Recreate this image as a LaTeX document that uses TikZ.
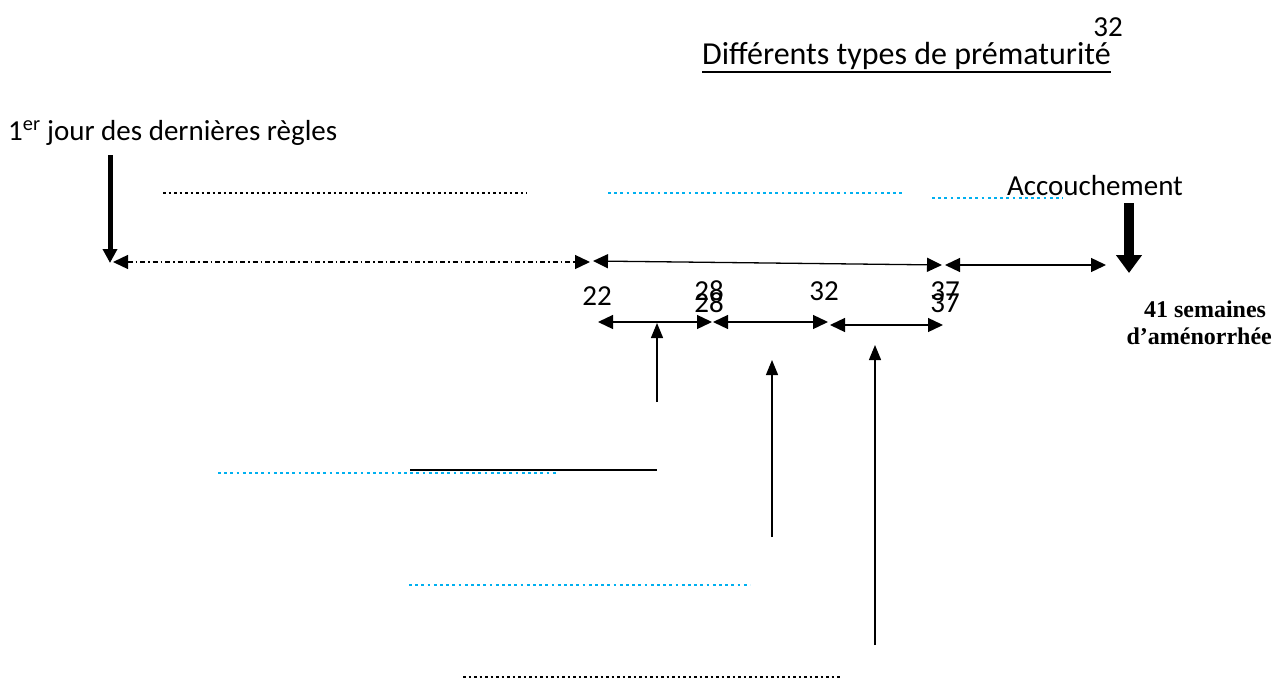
\documentclass[tikz,border=0pt]{standalone}
\usepackage{fontspec}
\setmainfont{Carlito}
\newfontfamily\bserif{Liberation Serif}
\usetikzlibrary{arrows.meta}
\definecolor{dotblue}{HTML}{00B0F0}
\tikzset{
  txt/.style={inner sep=0pt, anchor=base, font=\fontsize{29}{34}\selectfont},
  bold/.style={inner sep=0pt, anchor=base, font=\bserif\bfseries\fontsize{24}{28}\selectfont},
  thin/.style={line width=1.3pt, {Triangle[length=15pt,width=14pt]}-{Triangle[length=15pt,width=14pt]}},
  up/.style={line width=1.3pt, -{Triangle[length=15pt,width=12pt]}},
  dotsblack/.style={line width=2.6pt, dash pattern=on 2.6pt off 2.9pt, black},
  dotsblue/.style={line width=2.8pt, dash pattern=on 2.8pt off 3.4pt, dotblue},
  dashdot/.style={line width=1.3pt, dash pattern=on 5pt off 3pt on 1.5pt off 3pt}
}
\begin{document}
\begin{tikzpicture}[x=1pt,y=-1pt]
\useasboundingbox (0,0) rectangle (1273,682);
% texts
\node[txt] (pg) at (1108,37) {32};
\node[txt,anchor=base west,font=\fontsize{32}{36}\selectfont] (title) at (702,65) {Différents types de prématurité};
\draw[line width=1.5pt] ([yshift=-7pt]title.base west) -- ([yshift=-7pt]title.base east);
\node[txt,anchor=base west] (ddr) at (8,140) {1\textsuperscript{er} jour des dernières règles};
\node[txt] (acc) at (1095,195) {Accouchement};
\node[bold] (sa1) at (1205,317) {41 semaines};
\node[bold,anchor=base east] (sa2) at (1272,344) {d’aménorrhée};
\node[txt] (n22) at (597,305) {22};
\node[txt] (n28a) at (709,300) {28};
\node[txt] (n28b) at (709,312) {28};
\node[txt] (n32) at (824,300) {32};
\node[txt] (n37a) at (945,300) {37};
\node[txt] (n37b) at (945,312) {37};
% coordinates
\coordinate (a1s) at (110,155); \coordinate (a1e) at (110,263);
\coordinate (a2s) at (1129,203); \coordinate (a2e) at (1129,273);
\coordinate (t0) at (113,262); \coordinate (t1) at (590,262);
\coordinate (t2) at (593,261); \coordinate (t3) at (942,265);
\coordinate (t4) at (945,265); \coordinate (t5) at (1106,265);
\coordinate (b0) at (598,322); \coordinate (b1) at (712,322);
\coordinate (c0) at (713,322); \coordinate (c1) at (828,322);
\coordinate (d0) at (830,325); \coordinate (d1) at (943,325);
\coordinate (v1s) at (657,402); \coordinate (v1e) at (657,323);
\coordinate (v2s) at (772,537); \coordinate (v2e) at (772,360);
\coordinate (v3s) at (875,645); \coordinate (v3e) at (875,345);
% thick arrows
\draw[line width=5pt, -{Triangle[length=14pt,width=14pt]}] (a1s) -- (a1e);
\draw[line width=10pt, -{Triangle[length=18pt,width=25pt]}] (a2s) -- (a2e);
% timeline
\draw[dashdot, {Triangle[length=15pt,width=14pt]}-{Triangle[length=15pt,width=14pt]}] (t0) -- (t1);
\draw[thin] (t2) -- (t3);
\draw[thin] (t4) -- (t5);
\draw[thin] (b0) -- (b1);
\draw[thin] (c0) -- (c1);
\draw[thin] (d0) -- (d1);
% vertical arrows
\draw[up] (v1s) -- (v1e);
\draw[up] (v2s) -- (v2e);
\draw[up] (v3s) -- (v3e);
% dotted lines
\draw[dotsblack] (163,193) -- (527,193);
\draw[dotsblue] (608,193) -- (903,193);
\draw[dotsblue] (932,198) -- (1063,198);
\draw[dotsblue] (218,473) -- (558,473);
\draw[line width=1.5pt] (410,470) -- (657,470);
\draw[dotsblue] (409,585) -- (750,585);
\draw[dotsblack] (463,677) -- (842,677);
\end{tikzpicture}
\end{document}
